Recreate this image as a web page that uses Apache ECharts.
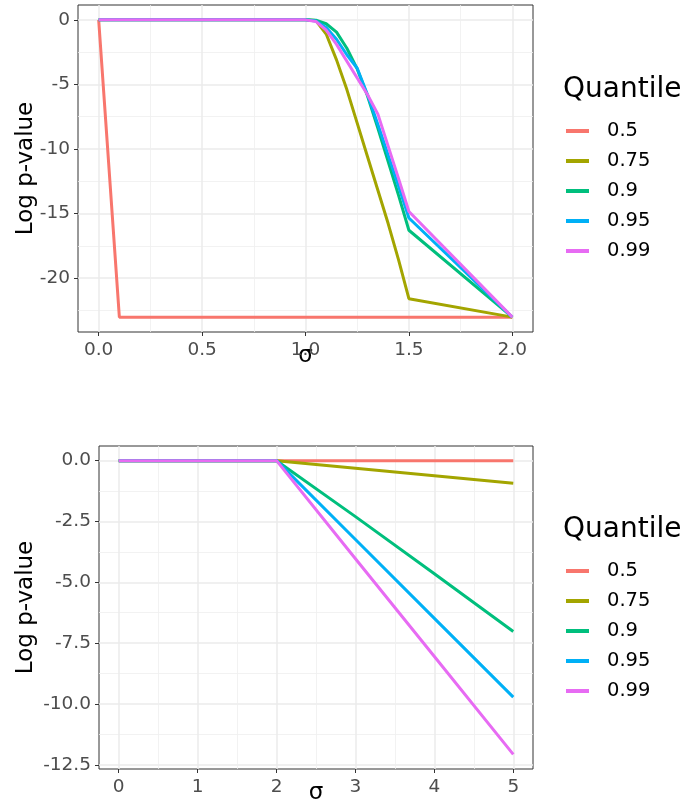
<!DOCTYPE html>
<html>
<head>
<meta charset="utf-8">
<script src="https://cdn.jsdelivr.net/npm/echarts@6/dist/echarts.min.js"></script>
<style>
html,body{margin:0;padding:0;background:#fff;}
#chart{width:681px;height:806px;}
</style>
</head>
<body>
<div id="chart"></div>
<script>
// ---------- data ----------
const quantiles = ['0.5', '0.75', '0.9', '0.95', '0.99'];
const colors = ['#F8766D', '#A3A500', '#00BF7D', '#00B0F6', '#E76BF3'];

// top panel
const sigmaTop = [0, 0.1, 1.0, 1.05, 1.1, 1.15, 1.2, 1.25, 1.3, 1.35, 1.4, 1.45, 1.5, 2.0];
const q050Top = [0, -23.03, -23.03, -23.03, -23.03, -23.03, -23.03, -23.03, -23.03, -23.03, -23.03, -23.03, -23.03, -23.03];
const q075Top = [0, 0, 0, -0.05, -1.1, -3.1, -5.4, -8.0, -10.6, -13.2, -15.8, -18.6, -21.6, -23.03];
const q090Top = [0, 0, 0, -0.03, -0.3, -0.95, -2.2, -3.8, -5.9, -8.4, -11.0, -13.6, -16.3, -23.03];
const q095Top = [0, 0, 0, -0.08, -0.6, -1.5, -2.7, -3.75, -5.8, -8.1, -10.5, -12.9, -15.35, -23.03];
const q099Top = [0, 0, 0, -0.12, -0.8, -1.9, -3.2, -4.5, -5.8, -7.3, -9.8, -12.3, -14.85, -23.03];

// bottom panel
const sigmaBottom = [0, 1, 2, 3, 4, 5];
const q050Bottom = [0, 0, 0, 0, 0, 0];
const q075Bottom = [0, 0, 0, -0.31, -0.62, -0.93];
const q090Bottom = [0, 0, 0, -2.3, -4.65, -7.02];
const q095Bottom = [0, 0, 0, -3.24, -6.48, -9.72];
const q099Bottom = [0, 0, 0, -4.03, -8.05, -12.07];

// tick values
const xTicksTop = [0, 0.5, 1, 1.5, 2];
const xMinorTop = [0.25, 0.75, 1.25, 1.75];
const yTicksTop = [0, -5, -10, -15, -20];
const yMinorTop = [-2.5, -7.5, -12.5, -17.5, -22.5];
const xTicksBottom = [0, 1, 2, 3, 4, 5];
const xMinorBottom = [0.5, 1.5, 2.5, 3.5, 4.5];
const yTicksBottom = [0, -2.5, -5, -7.5, -10, -12.5];
const yMinorBottom = [-1.25, -3.75, -6.25, -8.75, -11.25];

// ---------- helpers ----------
function expand(lo, hi) { const d = (hi - lo) * 0.05; return [lo - d, hi + d]; }
const FONT = 'DejaVu Sans';
const xrTop = expand(0, 2), yrTop = expand(-23.03, 0);
const xrBot = expand(0, 5), yrBot = expand(-12.07, 0);

function majorAxis(dim, grid, range, ticks, fmt, name, nameGap) {
  const isX = dim === 'x';
  return {
    type: 'value', gridIndex: grid, min: range[0], max: range[1],
    position: isX ? 'bottom' : 'left',
    name: name, nameLocation: 'middle', nameGap: nameGap, nameMoveOverlap: false,
    nameRotate: isX ? 0 : 90,
    nameTextStyle: { fontFamily: FONT, fontSize: 23, color: '#000' },
    axisLine: { show: false, onZero: false },
    axisTick: { show: true, length: 4, inside: false, customValues: ticks, lineStyle: { color: '#333333', width: 1 } },
    axisLabel: { show: true, customValues: ticks, formatter: fmt, margin: isX ? 9 : 8,
      fontFamily: FONT, fontSize: 18.5, color: '#4D4D4D' },
    splitLine: { show: true, lineStyle: { color: '#EBEBEB', width: 1.5 } },
    minorTick: { show: false }, minorSplitLine: { show: false }
  };
}
function minorAxis(dim, grid, range, ticks) {
  const isX = dim === 'x';
  return {
    type: 'value', gridIndex: grid, min: range[0], max: range[1],
    position: isX ? 'top' : 'right',
    axisLine: { show: false, onZero: false },
    axisTick: { show: false, customValues: ticks },
    axisLabel: { show: false, customValues: ticks },
    splitLine: { show: true, lineStyle: { color: '#EFEFEF', width: 0.8 } }
  };
}
function pairs(xs, ys) { return xs.map((x, i) => [x, ys[i]]); }

const topSeries = [q050Top, q075Top, q090Top, q095Top, q099Top];
const botSeries = [q050Bottom, q075Bottom, q090Bottom, q095Bottom, q099Bottom];
const series = [];
topSeries.forEach((ys, i) => series.push({
  type: 'line', name: quantiles[i], xAxisIndex: 0, yAxisIndex: 0,
  data: pairs(sigmaTop, ys), showSymbol: false, symbol: 'none', z: 3 + i,
  lineStyle: { color: colors[i], width: 3 }, itemStyle: { color: colors[i] }
}));
botSeries.forEach((ys, i) => series.push({
  type: 'line', name: quantiles[i], xAxisIndex: 2, yAxisIndex: 2,
  data: pairs(sigmaBottom, ys), showSymbol: false, symbol: 'none', z: 3 + i,
  lineStyle: { color: colors[i], width: 3 }, itemStyle: { color: colors[i] }
}));

function legend(top) {
  return {
    data: quantiles, orient: 'vertical', left: 566, top: top, padding: 0,
    icon: 'rect', itemWidth: 23, itemHeight: 4, itemGap: 10,
    selectedMode: false,
    textStyle: { fontFamily: FONT, fontSize: 19.5, color: '#000', lineHeight: 20, padding: [0, 0, 0, 13] }
  };
}
function legendTitle(top) {
  return { text: 'Quantile', left: 563, top: top, padding: 0,
    textStyle: { fontFamily: FONT, fontSize: 28, fontWeight: 'normal', color: '#000' } };
}

const option = {
  animation: false,
  backgroundColor: '#fff',
  color: colors,
  title: [legendTitle(76), legendTitle(516)],
  legend: [legend(121), legend(561)],
  grid: [
    { left: 78, top: 5, width: 455, height: 327, show: true, borderColor: '#333333', borderWidth: 1, backgroundColor: '#fff', containLabel: false },
    { left: 99, top: 446, width: 434, height: 326, show: true, borderColor: '#333333', borderWidth: 1, backgroundColor: '#fff', containLabel: false }
  ],
  xAxis: [
    majorAxis('x', 0, xrTop, xTicksTop, v => v.toFixed(1), 'σ', 13),
    minorAxis('x', 0, xrTop, xMinorTop),
    majorAxis('x', 1, xrBot, xTicksBottom, v => String(v), 'σ', 13),
    minorAxis('x', 1, xrBot, xMinorBottom)
  ],
  yAxis: [
    majorAxis('y', 0, yrTop, yTicksTop, v => String(v), 'Log p-value', 40),
    minorAxis('y', 0, yrTop, yMinorTop),
    majorAxis('y', 1, yrBot, yTicksBottom, v => v.toFixed(1), 'Log p-value', 61),
    minorAxis('y', 1, yrBot, yMinorBottom)
  ],
  series: series
};

const chart = echarts.init(document.getElementById('chart'), null, { renderer: 'canvas' });
chart.setOption(option);
</script>
</body>
</html>
